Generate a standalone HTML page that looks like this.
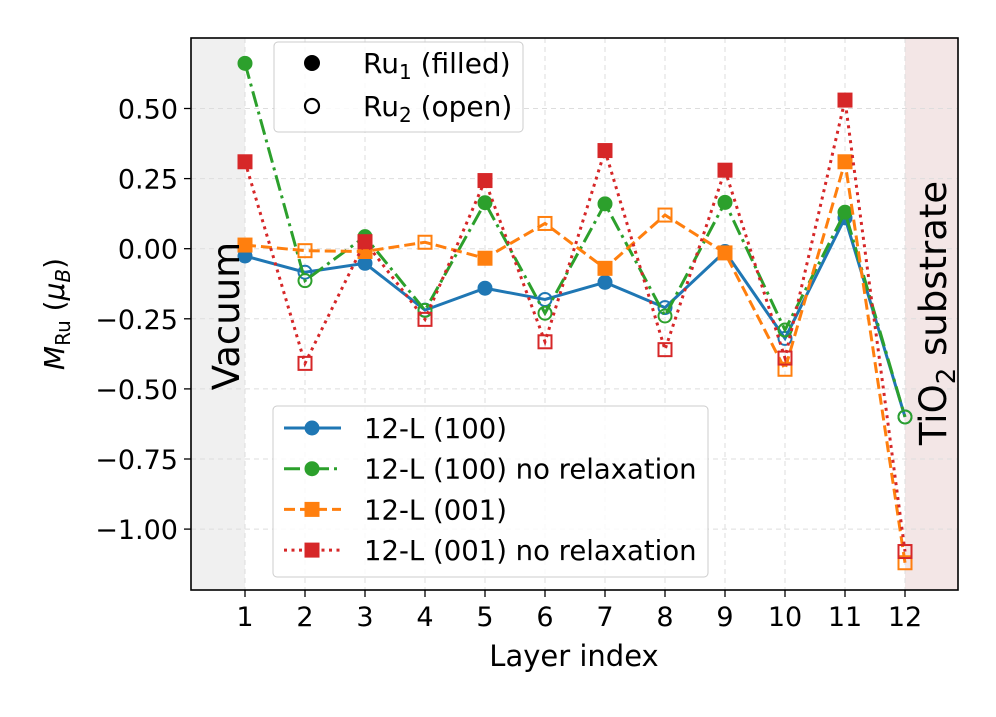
<!DOCTYPE html>
<html><head><meta charset="utf-8"><style>
body{margin:0;background:#fff}
svg text{font-family:"DejaVu Sans","Liberation Sans",sans-serif;fill:#000}
</style></head><body>
<svg id="chart" width="996" height="712" xmlns="http://www.w3.org/2000/svg">
<rect x="191" y="38" width="54" height="552" fill="#f0f0f0"/>
<rect x="905" y="38" width="53" height="552" fill="#f3e6e6"/>
<g id="grid"></g>
<g id="series"></g>
<rect x="191" y="38" width="767" height="552" fill="none" stroke="#000" stroke-width="1.6"/>
<g id="ticks"></g>
<text transform="translate(239,316) rotate(-90)" text-anchor="middle" font-size="37">Vacuum</text>
<text transform="translate(946,313) rotate(-90)" text-anchor="middle" font-size="37">TiO<tspan font-size="26" dy="9">2</tspan><tspan dy="-9"> substrate</tspan></text>
<text x="574" y="666" text-anchor="middle" font-size="29">Layer index</text>
<text transform="translate(64,314) rotate(-90)" text-anchor="middle" font-size="28"><tspan font-style="italic">M</tspan><tspan font-size="20" dy="6">Ru</tspan><tspan dy="-6"> (</tspan><tspan font-style="italic">μ</tspan><tspan font-size="20" font-style="italic" dy="6">B</tspan><tspan dy="-6">)</tspan></text>
<g>
<rect x="274" y="42" width="249" height="90" rx="4" fill="#fff" fill-opacity="0.85" stroke="#ccc"/>
<circle cx="312" cy="63" r="8" fill="#000"/>
<text x="363" y="73" font-size="28">Ru<tspan font-size="20" dy="6">1</tspan><tspan dy="-6"> (filled)</tspan></text>
<circle cx="312" cy="106" r="7" fill="none" stroke="#000" stroke-width="2.2"/>
<text x="363" y="116" font-size="28">Ru<tspan font-size="20" dy="6">2</tspan><tspan dy="-6"> (open)</tspan></text>
</g>
<g id="legend">
<rect x="273" y="406" width="435" height="171" rx="4" fill="#fff" fill-opacity="0.85" stroke="#ccc"/>
</g>
</svg>
<script>
const layers=[1,2,3,4,5,6,7,8,9,10,11,12];
const yTicks=[0.5,0.25,0,-0.25,-0.5,-0.75,-1.0];
const yTickLabels=["0.50","0.25","0.00","\u22120.25","\u22120.50","\u22120.75","\u22121.00"];
const s100=[-0.026,-0.084,-0.052,-0.219,-0.141,-0.181,-0.12,-0.21,-0.01,-0.32,0.11,-0.60];
const s100nr=[0.661,-0.114,0.043,-0.22,0.164,-0.23,0.16,-0.24,0.165,-0.29,0.13,-0.60];
const s001=[0.013,-0.007,-0.01,0.023,-0.034,0.09,-0.07,0.12,-0.015,-0.43,0.31,-1.12];
const s001nr=[0.31,-0.409,0.025,-0.252,0.243,-0.332,0.35,-0.36,0.28,-0.39,0.53,-1.08];
const names=["12-L (100)","12-L (100) no relaxation","12-L (001)","12-L (001) no relaxation"];
const NS="http://www.w3.org/2000/svg";
function X(v){return 245+(v-1)*60;}
function Y(v){return 248.7-280.4*v;}
function mk(t,a,p){var e=document.createElementNS(NS,t);for(var k in a){e.setAttribute(k,String(a[k]));}p.appendChild(e);return e;}
var grid=document.getElementById('grid'),ticks=document.getElementById('ticks'),ser=document.getElementById('series'),leg=document.getElementById('legend');
for(var li=0;li<layers.length;li++){
 var l=layers[li];
 var g1=mk('line',{x1:X(l),x2:X(l),y1:38,y2:590,stroke:'#ddd','stroke-dasharray':'5,4'},grid);
 
 
 var t1=mk('line',{x1:X(l),x2:X(l),y1:590,y2:597,stroke:'#000','stroke-width':1.3},ticks);
 
 
 var tx1=mk('text',{x:X(l),y:626,'text-anchor':'middle','font-size':27},ticks);
 tx1.textContent=String(l);
 
 
}
for(var yi=0;yi<yTicks.length;yi++){
 var v=yTicks[yi];
 var g2=mk('line',{x1:191,x2:958,y1:Y(v),y2:Y(v),stroke:'#ddd','stroke-dasharray':'5,4'},grid);
 
 
 var t2=mk('line',{x1:184,x2:191,y1:Y(v),y2:Y(v),stroke:'#000','stroke-width':1.3},ticks);
 
 
 var tx2=mk('text',{x:178,y:Y(v)+10,'text-anchor':'end','font-size':27},ticks);
 tx2.textContent=yTickLabels[yi];
 
 
}
var cfg=[
 {d:s100,c:'#1f77b4',dash:'none',m:'o'},
 {d:s100nr,c:'#2ca02c',dash:'16,5,3,5',m:'o'},
 {d:s001,c:'#ff7f0e',dash:'11,5',m:'s'},
 {d:s001nr,c:'#d62728',dash:'3,4.5',m:'s'}];
function drawMark(p,m,x,y,c,filled){
 if(m==='o'){
  if(filled) return mk('circle',{cx:x,cy:y,r:7.5,fill:c},p);
  return mk('circle',{cx:x,cy:y,r:6.5,fill:'none',stroke:c,'stroke-width':2},p);
 }
 if(filled) return mk('rect',{x:x-7.5,y:y-7.5,width:15,height:15,fill:c},p);
 return mk('rect',{x:x-6.5,y:y-6.5,width:13,height:13,fill:'none',stroke:c,'stroke-width':2},p);
}
for(var si=0;si<cfg.length;si++){
 var s=cfg[si];
 var gg=mk('g',{},ser);
 
 
 var pts=[];
 for(var i=0;i<s.d.length;i++){pts.push(X(layers[i])+','+Y(s.d[i]));}
 var pl=mk('polyline',{points:pts.join(' '),fill:'none',stroke:s.c,'stroke-width':3,'stroke-dasharray':s.dash},gg);
 
 
 for(var j=0;j<s.d.length;j++){
  var mm=drawMark(gg,s.m,X(layers[j]),Y(s.d[j]),s.c,layers[j]%2===1);
  
  
 }
 var ly=428+si*40.7;
 mk('line',{x1:284,x2:341,y1:ly,y2:ly,stroke:s.c,'stroke-width':3,'stroke-dasharray':s.dash},leg);
 drawMark(leg,s.m,312,ly,s.c,true);
 var lt=mk('text',{x:364,y:ly+10,'font-size':27.5},leg);
 lt.textContent=names[si];
 
 
}
</script>
</body></html>
